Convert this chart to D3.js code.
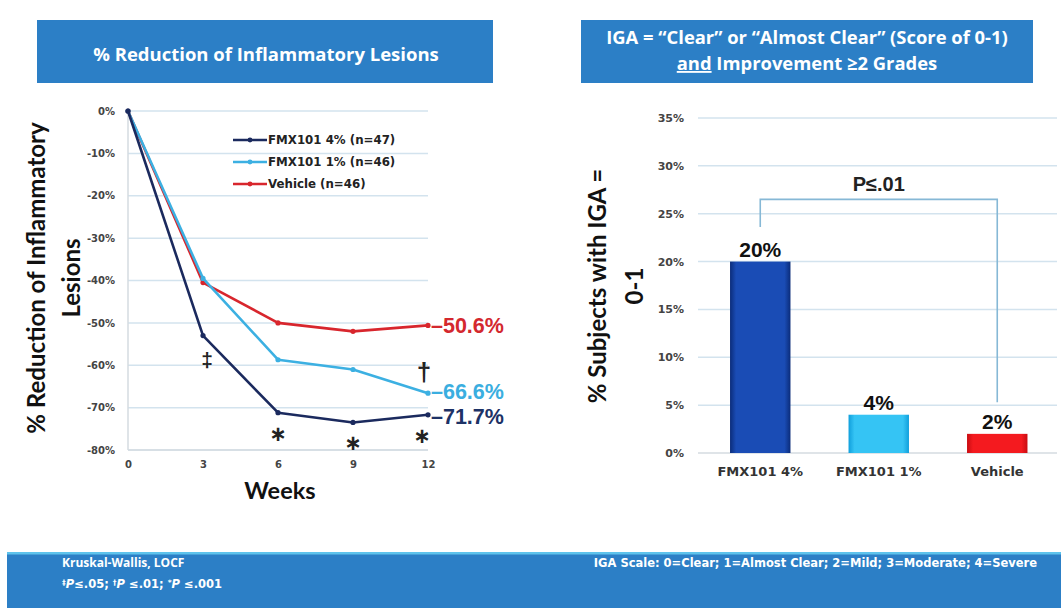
<!DOCTYPE html>
<html><head><meta charset="utf-8">
<script src="https://cdn.jsdelivr.net/npm/d3@7"></script>
<style>
body{margin:0;background:#fff;}
svg{display:block;}
</style></head>
<body>
<svg id="c" width="1061" height="613"></svg>
<script>
// ---------- data ----------
const weeks = [0, 3, 6, 9, 12];
const seriesNames = ["FMX101 4% (n=47)", "FMX101 1% (n=46)", "Vehicle (n=46)"];
const fmx4 = [0, -53, -71.2, -73.5, -71.7];
const fmx1 = [0, -39.5, -58.7, -61, -66.6];
const vehicle = [0, -40.5, -50, -52, -50.6];
const endLabels = ["-71.7%", "-66.6%", "-50.6%"];
const lineTicks = [0, -10, -20, -30, -40, -50, -60, -70, -80];
const sigMarks = [
  {week: 3, val: -53, sym: "‡", series: 0},
  {week: 6, val: -71.2, sym: "∗", series: 0},
  {week: 9, val: -73.5, sym: "∗", series: 0},
  {week: 12, val: -71.7, sym: "∗", series: 0},
  {week: 12, val: -66.6, sym: "†", series: 1}
];
const barCats = ["FMX101 4%", "FMX101 1%", "Vehicle"];
const barVals = [20, 4, 2];
const barLabels = ["20%", "4%", "2%"];
const barTicks = [0, 5, 10, 15, 20, 25, 30, 35];
const pText = "P≤.01";

// ---------- styles ----------
const lineColors = ["#1b2a5e", "#3cb0e2", "#d8262d"];
const labelColors = ["#1d3266", "#3aaee0", "#d4282e"];
const labelNudge = [1.5, -1.5, 0];
const boxBlue = "#2c7fc6";
const gridCol = "#d3e3ee";

const svg = d3.select("#c");
const defs = svg.append("defs");

// ---------- title boxes ----------
svg.append("rect").attr("x", 37).attr("y", 20).attr("width", 456).attr("height", 63).attr("fill", boxBlue);
svg.append("text").attr("x", 266).attr("y", 61).attr("text-anchor", "middle")
  .attr("font-family", "Open Sans").attr("font-weight", 700).attr("font-size", 18.5).attr("fill", "#fff")
  .text("% Reduction of Inflammatory Lesions");

svg.append("rect").attr("x", 581).attr("y", 20).attr("width", 452).attr("height", 63).attr("fill", boxBlue);
const t2 = svg.append("text").attr("text-anchor", "middle")
  .attr("font-family", "Open Sans").attr("font-weight", 700).attr("font-size", 18.4).attr("fill", "#fff");
t2.append("tspan").attr("x", 807).attr("y", 44).text("IGA = “Clear” or “Almost Clear” (Score of 0-1)");
const l2 = t2.append("tspan").attr("x", 807).attr("y", 70);
l2.append("tspan").attr("text-decoration", "underline").text("and");
l2.append("tspan").text(" Improvement ≥2 Grades");

// ---------- line chart ----------
const x = d3.scaleLinear().domain([0, 12]).range([128, 428]);
const y = d3.scaleLinear().domain([-80, 0]).range([450, 111]);

const gL = svg.append("g");
gL.selectAll("line.grid").data(lineTicks).join("line")
  .attr("x1", x(0)).attr("x2", x(12)).attr("y1", d => y(d)).attr("y2", d => y(d))
  .attr("stroke", gridCol).attr("stroke-width", 1.5);
gL.append("line").attr("x1", x(0)).attr("x2", x(0)).attr("y1", y(0)).attr("y2", y(-80))
  .attr("stroke", "#d5dbe0").attr("stroke-width", 1.5);
gL.append("line").attr("x1", x(0)).attr("x2", x(12)).attr("y1", y(-80)).attr("y2", y(-80))
  .attr("stroke", "#d5dbe0").attr("stroke-width", 1.5);

const yAxL = d3.axisLeft(y).tickValues(lineTicks).tickFormat(d => d + "%").tickSize(0).tickPadding(13);
const yAxLg = gL.append("g").attr("transform", `translate(${x(0)},0)`).call(yAxL);
yAxLg.select(".domain").remove();
yAxLg.selectAll("text").attr("font-family", "DejaVu Sans").attr("font-weight", 700)
  .attr("font-size", 10).attr("fill", "#444");

const xAxL = d3.axisBottom(x).tickValues(weeks).tickSize(0).tickPadding(11);
const xAxLg = gL.append("g").attr("transform", `translate(0,${y(-80)})`).call(xAxL);
xAxLg.select(".domain").remove();
xAxLg.selectAll("text").attr("font-family", "DejaVu Sans").attr("font-weight", 700)
  .attr("font-size", 10).attr("fill", "#444");

// axis titles
const yt = gL.append("text").attr("transform", "translate(45,278) rotate(-90)").attr("text-anchor", "middle")
  .attr("font-family", "Lato").attr("font-weight", 700).attr("font-size", 24).attr("fill", "#111");
yt.append("tspan").attr("x", 0).attr("y", 0).text("% Reduction of Inflammatory");
yt.append("tspan").attr("x", 0).attr("y", 35).text("Lesions");
gL.append("text").attr("x", 280).attr("y", 499).attr("text-anchor", "middle")
  .attr("font-family", "Lato").attr("font-weight", 700).attr("font-size", 23.5).attr("fill", "#111")
  .text("Weeks");

const allSeries = [fmx4, fmx1, vehicle];
const line = d3.line().x((d, i) => x(weeks[i])).y(d => y(d));
// draw vehicle first, then 1%, then 4% on top
[2, 1, 0].forEach(si => {
  gL.append("path").datum(allSeries[si]).attr("d", line).attr("fill", "none")
    .attr("stroke", lineColors[si]).attr("stroke-width", 2.6).attr("stroke-linejoin", "round");
  gL.selectAll(null).data(allSeries[si]).join("circle")
    .attr("cx", (d, i) => x(weeks[i])).attr("cy", d => y(d)).attr("r", 2.6).attr("fill", lineColors[si]);
});

// end labels
[0, 1, 2].forEach(si => {
  const v = allSeries[si][4];
  gL.append("text").attr("x", x(12) + 3).attr("y", y(v) + labelNudge[si]).attr("dy", "0.36em")
    .attr("font-family", "Liberation Sans").attr("font-weight", 700).attr("font-size", 21.5)
    .attr("fill", labelColors[si]).text(endLabels[si].replace("-", "–"));
});

// significance marks
sigMarks.forEach(m => {
  const isStar = m.sym === "∗";
  let yy, fs, fam = "Liberation Sans", dx = 0;
  if (m.sym === "†") { yy = y(m.val) - 12; fs = 26; dx = -4; }
  else if (isStar) { yy = y(m.val) + 28; fs = 21; fam = "DejaVu Sans"; dx = m.week === 12 ? -6 : 0; }
  else { yy = y(m.val) + 31; fs = 21; dx = 4; }
  gL.append("text").attr("x", x(m.week) + dx).attr("y", yy)
    .attr("text-anchor", "middle")
    .attr("font-family", fam).attr("font-weight", 700)
    .attr("font-size", fs).attr("fill", "#222").text(m.sym);
});

// legend
const leg = gL.append("g");
seriesNames.forEach((n, i) => {
  const ly = 140 + i * 22;
  leg.append("line").attr("x1", 233).attr("x2", 267).attr("y1", ly).attr("y2", ly)
    .attr("stroke", lineColors[i]).attr("stroke-width", 2.6);
  leg.append("circle").attr("cx", 250).attr("cy", ly).attr("r", 2.4).attr("fill", lineColors[i]);
  leg.append("text").attr("x", 268).attr("y", ly).attr("dy", "0.35em")
    .attr("font-family", "DejaVu Sans").attr("font-weight", 700).attr("font-size", 11.8)
    .attr("fill", "#222").text(n);
});

// ---------- bar chart ----------
const xb = d3.scaleBand().domain(barCats).range([701, 1056.5]).paddingInner(0.49).paddingOuter(0.245);
const yb = d3.scaleLinear().domain([0, 35]).range([453, 118]);
const gR = svg.append("g");
gR.selectAll("line.grid").data(barTicks).join("line")
  .attr("x1", 698).attr("x2", 1057).attr("y1", d => yb(d)).attr("y2", d => yb(d))
  .attr("stroke", d => d === 0 ? "#d5dbe0" : gridCol).attr("stroke-width", 1.5);

const yAxR = d3.axisLeft(yb).tickValues(barTicks).tickFormat(d => d + "%").tickSize(0).tickPadding(14);
const yAxRg = gR.append("g").attr("transform", "translate(698,0)").call(yAxR);
yAxRg.select(".domain").remove();
yAxRg.selectAll("text").attr("font-family", "DejaVu Sans").attr("font-weight", 700)
  .attr("font-size", 11).attr("fill", "#444");

const xAxR = d3.axisBottom(xb).tickSize(0).tickPadding(14);
const xAxRg = gR.append("g").attr("transform", `translate(0,${yb(0)})`).call(xAxR);
xAxRg.select(".domain").remove();
xAxRg.selectAll("text").attr("font-family", "DejaVu Sans").attr("font-weight", 700)
  .attr("font-size", 13).attr("fill", "#333");

const rt = gR.append("text").attr("transform", "translate(606,286) rotate(-90)").attr("text-anchor", "middle")
  .attr("font-family", "Lato").attr("font-weight", 700).attr("font-size", 24).attr("fill", "#111");
rt.append("tspan").attr("x", 0).attr("y", 0).text("% Subjects with IGA =");
rt.append("tspan").attr("x", 0).attr("y", 37).text("0-1");

const barGrad = [["#0b2c7a", "#1a4cb5"], ["#109fdc", "#35c4f4"], ["#c80d12", "#f41a1f"]];
barGrad.forEach((c, i) => {
  const g = defs.append("linearGradient").attr("id", "bg" + i).attr("x1", 0).attr("x2", 1).attr("y1", 0).attr("y2", 0);
  g.append("stop").attr("offset", "0%").attr("stop-color", c[0]);
  g.append("stop").attr("offset", "10%").attr("stop-color", c[1]);
  g.append("stop").attr("offset", "90%").attr("stop-color", c[1]);
  g.append("stop").attr("offset", "100%").attr("stop-color", c[0]);
});
gR.selectAll("rect.bar").data(barVals).join("rect")
  .attr("x", (d, i) => xb(barCats[i])).attr("width", xb.bandwidth())
  .attr("y", d => yb(d)).attr("height", d => yb(0) - yb(d))
  .attr("fill", (d, i) => `url(#bg${i})`);
gR.selectAll("text.bl").data(barVals).join("text")
  .attr("x", (d, i) => xb(barCats[i]) + xb.bandwidth() / 2).attr("y", d => yb(d) - 5)
  .attr("text-anchor", "middle").attr("font-family", "Liberation Sans").attr("font-weight", 700)
  .attr("font-size", 21).attr("fill", "#111").text((d, i) => barLabels[i]);

// significance bracket
const cx0 = xb(barCats[0]) + xb.bandwidth() / 2, cx2 = xb(barCats[2]) + xb.bandwidth() / 2;
const brTop = yb(26.5);
gR.append("path")
  .attr("d", `M${cx0},${yb(23.6)}V${brTop}H${cx2}V${yb(5.3)}`)
  .attr("fill", "none").attr("stroke", "#86b8d6").attr("stroke-width", 1.6);
gR.append("text").attr("x", (cx0 + cx2) / 2).attr("y", brTop - 8).attr("text-anchor", "middle")
  .attr("font-family", "Liberation Sans").attr("font-weight", 700).attr("font-size", 20).attr("fill", "#222")
  .text(pText);

// ---------- footer ----------
svg.append("rect").attr("x", 7).attr("y", 552).attr("width", 1054).attr("height", 56).attr("fill", boxBlue);
svg.append("rect").attr("x", 7).attr("y", 552).attr("width", 1054).attr("height", 2.5).attr("fill", "#5ec3ec");
svg.append("text").attr("x", 62).attr("y", 567).attr("font-family", "Open Sans").attr("font-weight", 700)
  .attr("font-size", 12).attr("fill", "#fff").text("Kruskal-Wallis, LOCF");
const fn = svg.append("text").attr("x", 62).attr("y", 588).attr("font-family", "DejaVu Sans").attr("font-weight", 700)
  .attr("font-size", 11.5).attr("fill", "#fff");
[["‡", "P", "≤.05; "], ["†", "P", " ≤.01; "], ["*", "P", " ≤.001"]].forEach(p => {
  fn.append("tspan").attr("font-size", 7.5).attr("dy", -3).text(p[0]);
  fn.append("tspan").attr("font-style", "italic").attr("dy", 3).text(p[1]);
  fn.append("tspan").text(p[2]);
});
svg.append("text").attr("x", 1037).attr("y", 567).attr("text-anchor", "end").attr("font-family", "DejaVu Sans")
  .attr("font-weight", 700).attr("font-size", 11.5).attr("fill", "#fff")
  .text("IGA Scale: 0=Clear; 1=Almost Clear; 2=Mild; 3=Moderate; 4=Severe");
</script>
</body></html>
